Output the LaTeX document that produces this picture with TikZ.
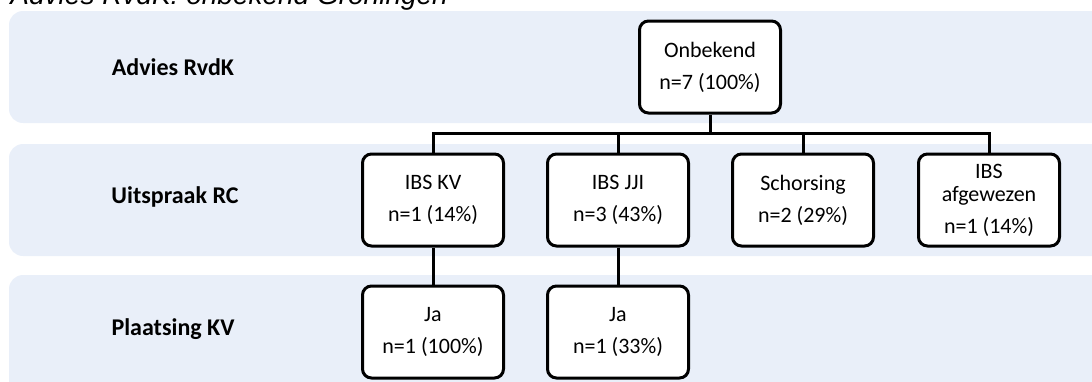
\documentclass[tikz,border=0pt]{standalone}
\usepackage{fontspec}
\setmainfont{Carlito}
\newfontfamily\titlefont{Liberation Sans}
\usetikzlibrary{positioning}
\definecolor{cband}{HTML}{E9EFF9}
\tikzset{
  every picture/.style={line width=1.5pt},
  band/.style={fill=cband, draw=none, rounded corners=7pt},
  lvl/.style={font=\fontsize{12}{14}\selectfont\bfseries, inner sep=0pt},
  box/.style={draw=black, fill=white, rounded corners=4.5pt, align=center, inner sep=0pt, minimum width=70.5pt, minimum height=46pt, font=\fontsize{11}{11.5}\selectfont},
  link/.style={draw=black, line width=1.5pt},
}

\begin{document}
\begin{tikzpicture}[x=0.5pt, y=-0.5pt]
  \useasboundingbox (0,0) rectangle (1092,381);
  \node[anchor=base west, inner sep=0pt, font=\titlefont\itshape\fontsize{14}{16}\selectfont] (title) at (9,4.5) {Advies RvdK: onbekend Groningen};
  % bands
  \fill[band] (9,11) rectangle (1110,123);
  \fill[band] (9,144) rectangle (1110,256);
  \fill[band] (9,275) rectangle (1110,400);
  \node[lvl] (l1) at (173,67) {Advies RvdK};
  \node[lvl] (l2) at (175,197) {Uitspraak RC};
  \node[lvl] (l3) at (173,329) {Plaatsing KV};
  % boxes
  \node[box] (root) at (710,67) {Onbekend\\[4.5pt]n=7 (100\%)};
  \node[box] (kv) at (433,200) {IBS KV\\[4.5pt]n=1 (14\%)};
  \node[box] (jji) at (618,200) {IBS JJI\\[4.5pt]n=3 (43\%)};
  \node[box] (sch) at (803,200) {Schorsing\\[4.5pt]n=2 (29\%)};
  \node[box] (afg) at (989,200) {IBS\\afgewezen\\[4.5pt]n=1 (14\%)};
  \node[box] (ja1) at (433,332) {Ja\\[4.5pt]n=1 (100\%)};
  \node[box] (ja2) at (618,332) {Ja\\[4.5pt]n=1 (33\%)};
  % connectors
  \coordinate (bus) at (710,133);
  \draw[link] (root.south) -- (bus);
  \draw[link] (kv.north) |- (bus) -| (afg.north);
  \draw[link] (jji.north) -- (jji.north |- bus);
  \draw[link] (sch.north) -- (sch.north |- bus);
  \draw[link] (kv) -- (ja1);
  \draw[link] (jji) -- (ja2);
\end{tikzpicture}
\end{document}
